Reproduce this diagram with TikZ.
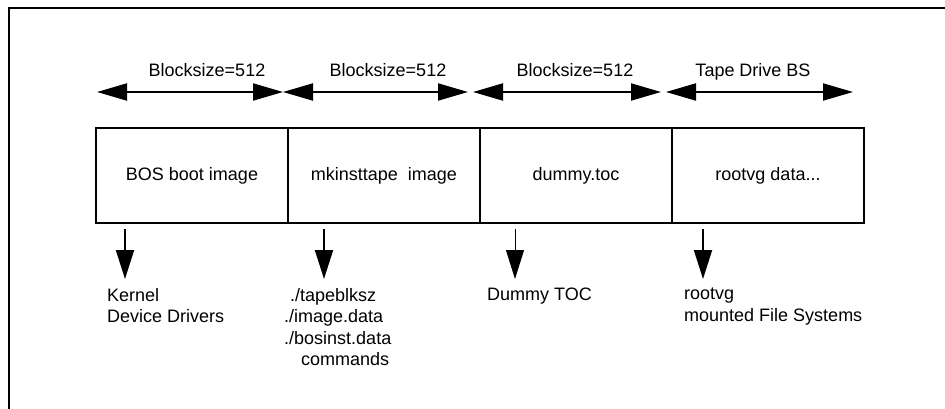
\documentclass[tikz,border=0pt]{standalone}
\usepackage{fontspec}
\setmainfont{Liberation Sans}
\usetikzlibrary{arrows.meta}
\begin{document}
\begin{tikzpicture}[x=1pt,y=-1pt,
  txt/.style={font=\fontsize{18}{21.5}\selectfont},
  cell/.style={txt,draw=black,line width=2pt,minimum width=192pt,minimum height=95pt,inner sep=0pt,outer sep=0pt,anchor=north west},
  span/.style={line width=2pt,{Triangle[length=30pt,width=17pt]}-{Triangle[length=30pt,width=17pt]}},
  down/.style={line width=2pt,-{Triangle[length=29pt,width=18pt]}},
  thindown/.style={line width=1pt,-{Triangle[length=29pt,width=18pt]}},
  lbl/.style={txt,inner sep=0pt,anchor=base},
  note/.style={txt,inner sep=0pt,anchor=north west,align=left}]
\useasboundingbox (0,0) rectangle (945,409);
% frame
\draw[line width=1.5pt,line join=miter] (9,409) -- (9,8) -- (945,8);
% cells
\node[cell] (c1) at (96,128) {BOS boot image};
\node[cell] (c2) at (288,128) {mkinsttape\ \ image};
\node[cell] (c3) at (480,128) {dummy.toc};
\node[cell] (c4) at (672,128) {rootvg data...};
% top spans
\coordinate (s0a) at (97,92);  \coordinate (s0b) at (283,92);
\coordinate (s1a) at (283,92); \coordinate (s1b) at (468,92);
\coordinate (s2a) at (473,92); \coordinate (s2b) at (661,92);
\coordinate (s3a) at (666,92); \coordinate (s3b) at (853,92);
\draw[span] (s0a) -- (s0b);
\draw[span] (s1a) -- (s1b);
\draw[span] (s2a) -- (s2b);
\draw[span] (s3a) -- (s3b);
\node[lbl] (l0) at (207,77) {Blocksize=512};
\node[lbl] (l1) at (388,77) {Blocksize=512};
\node[lbl] (l2) at (575,77) {Blocksize=512};
\node[lbl] (l3) at (753,77) {Tape Drive BS};
% down arrows
\coordinate (d0a) at (125,229); \coordinate (d0b) at (125,279);
\coordinate (d1a) at (324,229); \coordinate (d1b) at (324,279);
\coordinate (d2a) at (515,229); \coordinate (d2b) at (515,279);
\coordinate (d3a) at (703,229); \coordinate (d3b) at (703,279);
\draw[down] (d0a) -- (d0b);
\draw[down] (d1a) -- (d1b);
\draw[thindown] (d2a) -- (d2b);
\draw[down] (d3a) -- (d3b);
% notes
\node[note] (n0) at (107,288) {Kernel\\Device Drivers};
\node[note] (n1) at (284,288) {\hspace*{6pt}./tapeblksz\\./image.data\\./bosinst.data\\\hspace*{17pt}commands};
\node[note] (n2) at (487,288) {Dummy TOC};
\node[note] (n3) at (684,288) {rootvg\\mounted File Systems};
\end{tikzpicture}
\end{document}
